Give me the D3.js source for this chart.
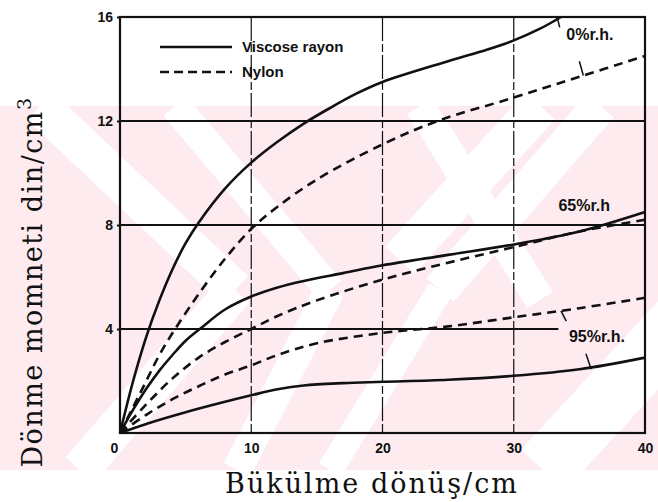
<!DOCTYPE html>
<html>
<head>
<meta charset="utf-8">
<script src="https://cdn.jsdelivr.net/npm/d3@7"></script>
<style>
  body { margin: 0; background: #fff; }
  svg { display: block; }
</style>
</head>
<body>
<svg id="mychart" width="658" height="502"></svg>
<script>
// tick values
const xTicks = [0, 10, 20, 30, 40];
const yTicks = [0, 4, 8, 12, 16];
const xGrid = [10, 20, 30];
const yGrid = [4, 8, 12];

// curves: [twist turns/cm, torque]
const viscose0 = [[0,0],[1,2.0],[2,3.7],[3,5.1],[4,6.3],[5,7.3],[6,8.1],[8,9.4],[10,10.4],[12,11.2],[14,11.9],[16,12.5],[18,13.05],[20,13.5],[25,14.3],[28,14.75],[30,15.1],[32,15.55],[33.6,16]];
const nylon0 = [[0,0],[1,1.0],[2,2.0],[3,3.0],[4.2,4],[6,5.35],[8,6.7],[10,7.85],[12,8.7],[15,9.75],[20,11.1],[24.2,12],[30,12.9],[35,13.7],[40,14.5]];
const viscose65 = [[0,0],[1,0.9],[2,1.7],[3,2.4],[4,3.0],[5,3.55],[6.2,4.05],[8,4.75],[10,5.25],[12,5.6],[14,5.85],[17,6.15],[20,6.45],[25,6.85],[30,7.25],[35,7.75],[40,8.5]];
const nylon65 = [[0,0],[2,1.1],[4,2.1],[6,2.9],[8,3.5],[10,4.0],[12,4.5],[15,5.1],[20,5.9],[25,6.55],[30,7.15],[35,7.75],[40,8.2]];
const viscose95 = [[0,0],[2,0.35],[5,0.8],[8,1.2],[10,1.45],[12,1.68],[14,1.83],[17,1.92],[20,1.97],[25,2.05],[30,2.2],[35,2.45],[40,2.9]];
const nylon95 = [[0,0],[2,0.7],[4,1.3],[6,1.8],[8,2.25],[10,2.6],[12,3.0],[15,3.45],[20,3.85],[25,4.1],[30,4.45],[35,4.8],[40,5.2]];

const seriesNames = ["Viscose rayon", "Nylon"];
const rhLabels = ["0%r.h.", "65%r.h", "95%r.h."];

const svg = d3.select("#mychart");
const ink = "#111";

// faint pink watermark behind the chart
const wm = svg.append("g");
wm.append("clipPath").attr("id", "band").append("rect").attr("x", 0).attr("y", 106).attr("width", 658).attr("height", 364);
wm.attr("clip-path", "url(#band)");
wm.append("rect").attr("x", 0).attr("y", 106).attr("width", 658).attr("height", 364).attr("fill", "#fdebef");
const stripe = (x1, y1, x2, y2, w) =>
  wm.append("line").attr("x1", x1).attr("y1", y1).attr("x2", x2).attr("y2", y2)
    .attr("stroke", "#fff").attr("stroke-width", w);
stripe(40, 106, 235, 290, 38);
stripe(235, 290, 80, 470, 38);
stripe(175, 106, 330, 290, 30);
stripe(330, 290, 237, 470, 30);
stripe(600, 106, 440, 290, 36);
stripe(440, 290, 330, 470, 26);
stripe(540, 106, 400, 260, 40);
stripe(420, 106, 540, 300, 30);
stripe(700, 300, 543, 470, 60);

const x = d3.scaleLinear().domain([0, 40]).range([120, 645]);
const y = d3.scaleLinear().domain([0, 16]).range([433, 17]);

// grid
svg.append("g").selectAll("line").data(xGrid).join("line")
  .attr("x1", d => x(d)).attr("x2", d => x(d))
  .attr("y1", y(16)).attr("y2", y(0))
  .attr("stroke", ink).attr("stroke-width", 1.2)
  .attr("stroke-dasharray", "24,3,8,3");
svg.append("g").selectAll("line").data(yGrid).join("line")
  .attr("x1", x(0)).attr("x2", d => d === 4 ? x(33.4) : x(40))
  .attr("y1", d => y(d)).attr("y2", d => y(d))
  .attr("stroke", ink).attr("stroke-width", 2.2);

// frame
svg.append("rect").attr("x", x(0)).attr("y", y(16))
  .attr("width", x(40) - x(0)).attr("height", y(0) - y(16))
  .attr("fill", "none").attr("stroke", ink).attr("stroke-width", 2.2);

// axes labels
const tickFont = "'Liberation Sans', Arial, sans-serif";
const yAxis = d3.axisLeft(y).tickValues(yTicks.slice(1)).tickSize(3).tickPadding(4);
svg.append("g").attr("transform", `translate(${x(0)},0)`).call(yAxis)
  .call(g => g.select(".domain").remove())
  .call(g => g.selectAll("line").attr("stroke", ink).attr("stroke-width", 2))
  .call(g => g.selectAll("text").attr("font-family", tickFont).attr("font-weight", "bold")
    .attr("font-size", 14).attr("fill", ink));
const xAxis = d3.axisBottom(x).tickValues(xTicks).tickSize(0).tickPadding(10);
svg.append("g").attr("transform", `translate(0,${y(0)})`).call(xAxis)
  .call(g => g.select(".domain").remove())
  .call(g => g.selectAll("text").attr("font-family", tickFont).attr("font-weight", "bold")
    .attr("font-size", 14).attr("fill", ink))
  .call(g => g.selectAll(".tick").filter(d => d === 0).select("text").attr("dx", -6));

// curves
const line = d3.line().x(d => x(d[0])).y(d => y(d[1])).curve(d3.curveCatmullRom.alpha(0.5));
const curves = [
  { data: viscose0, dash: null },
  { data: nylon0, dash: "9,6" },
  { data: viscose65, dash: null },
  { data: nylon65, dash: "9,6" },
  { data: viscose95, dash: null },
  { data: nylon95, dash: "9,6" }
];
svg.append("g").selectAll("path").data(curves).join("path")
  .attr("d", d => line(d.data))
  .attr("fill", "none").attr("stroke", ink).attr("stroke-width", 2.6)
  .attr("stroke-dasharray", d => d.dash);

// legend
const lg = svg.append("g");
[0, 1].forEach(i => {
  const ly = 47 + i * 25;
  lg.append("line").attr("x1", 160).attr("x2", 232).attr("y1", ly).attr("y2", ly)
    .attr("stroke", ink).attr("stroke-width", 2.6).attr("stroke-dasharray", i ? "9,5" : null);
  lg.append("text").attr("x", 242).attr("y", ly + 5).text(seriesNames[i])
    .attr("font-family", tickFont).attr("font-size", 15).attr("font-weight", "bold").attr("fill", ink);
});

// r.h. labels with leader lines
const rhPos = [[34.0, 15.1], [33.4, 8.55], [34.2, 3.5]];
svg.append("g").selectAll("text").data(rhLabels).join("text")
  .attr("x", (d, i) => x(rhPos[i][0])).attr("y", (d, i) => y(rhPos[i][1]))
  .text(d => d).attr("font-family", tickFont).attr("font-size", 16).attr("font-weight", "bold")
  .attr("fill", ink);
const leaders = [
  [[33.5, 15.6], [33.3, 16]],
  [[35.0, 14.3], [35.3, 13.75]],
  [[34.0, 4.3], [33.6, 4.7]],
  [[35.5, 3.05], [35.9, 2.45]]
];
svg.append("g").selectAll("line").data(leaders).join("line")
  .attr("x1", d => x(d[0][0])).attr("y1", d => y(d[0][1]))
  .attr("x2", d => x(d[1][0])).attr("y2", d => y(d[1][1]))
  .attr("stroke", ink).attr("stroke-width", 1.5);

// axis titles
const titleFont = "'DejaVu Serif', serif";
svg.append("text").attr("x", 372).attr("y", 493).attr("text-anchor", "middle")
  .attr("font-family", titleFont).attr("font-size", 27).attr("fill", ink)
  .attr("letter-spacing", 2)
  .text("Bükülme  dönüş/cm");
const yt = svg.append("text").attr("transform", "translate(42,282) rotate(-90)")
  .attr("text-anchor", "middle").attr("font-family", titleFont)
  .attr("font-size", 27).attr("fill", ink).attr("letter-spacing", 1.5);
yt.append("tspan").text("Dönme momneti din/cm");
yt.append("tspan").attr("dy", -11).attr("font-size", 19).text("3");
</script>
</body>
</html>
